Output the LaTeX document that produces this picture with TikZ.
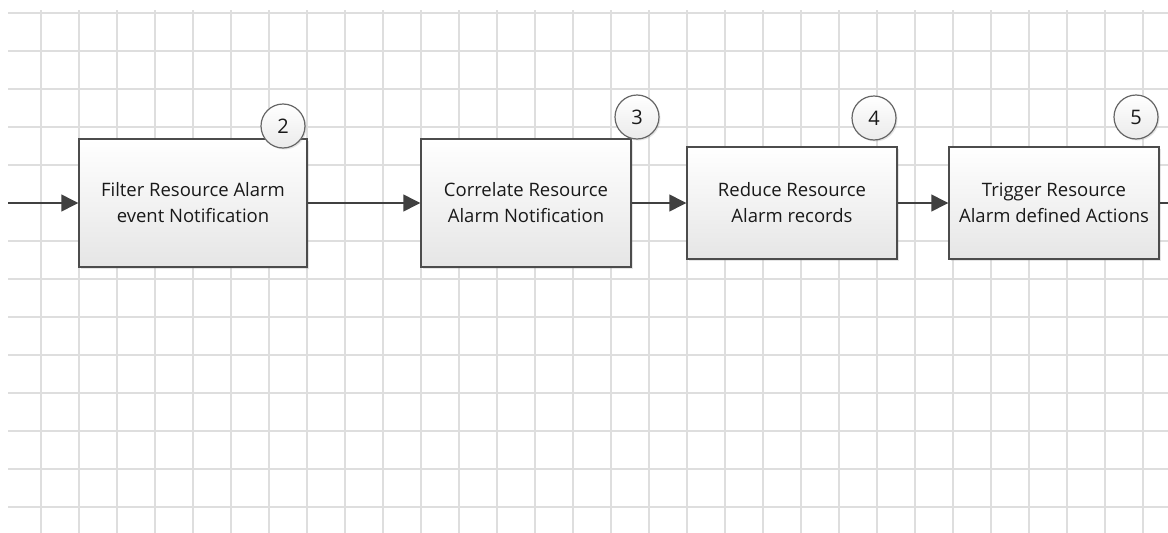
\documentclass[tikz,border=0pt]{standalone}
\usepackage{fontspec}
\setmainfont{Open Sans}
\usetikzlibrary{arrows.meta,shadows}

\tikzset{
    stepbox/.style={draw=black!70, line width=1.5pt, top color=white, bottom color=black!10,
        drop shadow={opacity=0.2, shadow xshift=2pt, shadow yshift=-2pt},
        align=center, font=\fontsize{18.5}{26}\selectfont, text=black!90},
    badge/.style={circle, draw=black!60, line width=1.2pt, top color=white, bottom color=black!8,
        drop shadow={opacity=0.2, shadow xshift=1.5pt, shadow yshift=-1.5pt},
        minimum size=44pt, inner sep=0pt, font=\fontsize{20}{22}\selectfont, text=black!90},
    flow/.style={draw=black!75, line width=1.6pt, -{Triangle[length=17pt,width=17pt]}},
}

\begin{document}
\begin{tikzpicture}[x=1pt, y=-1pt]
    \useasboundingbox (0,0) rectangle (1168,533);
    \fill[white] (0,0) rectangle (1168,533);

    % background grid
    \foreach \k in {0,...,13}
        \draw[black!13, line width=1.6pt] (8,13+38*\k) -- (1168,13+38*\k);
    \foreach \k in {0,...,29}
        \draw[black!13, line width=1.6pt] (41+38*\k,10) -- (41+38*\k,533);

    % process steps
    \node[stepbox, minimum width=228pt, minimum height=128pt] (filter) at (193,203)
        {Filter Resource Alarm\\event Notification};
    \node[stepbox, minimum width=210pt, minimum height=128pt] (correlate) at (526,203)
        {Correlate Resource\\Alarm Notification};
    \node[stepbox, minimum width=210pt, minimum height=112pt] (reduce) at (792,203)
        {Reduce Resource\\Alarm records};
    \node[stepbox, minimum width=210pt, minimum height=112pt] (trigger) at (1054,203)
        {Trigger Resource\\Alarm defined Actions};

    % step numbers
    \node[badge] (n2) at (283,126) {2};
    \node[badge] (n3) at (637,117) {3};
    \node[badge] (n4) at (874,118) {4};
    \node[badge] (n5) at (1136,117) {5};

    % connectors
    \coordinate (start) at (8,203);
    \coordinate (exit) at (1168,203);
    \draw[flow] (start) -- (filter);
    \draw[flow] (filter) -- (correlate);
    \draw[flow] (correlate) -- (reduce);
    \draw[flow] (reduce) -- (trigger);
    \draw[draw=black!75, line width=1.6pt] (trigger) -- (exit);
\end{tikzpicture}
\end{document}
